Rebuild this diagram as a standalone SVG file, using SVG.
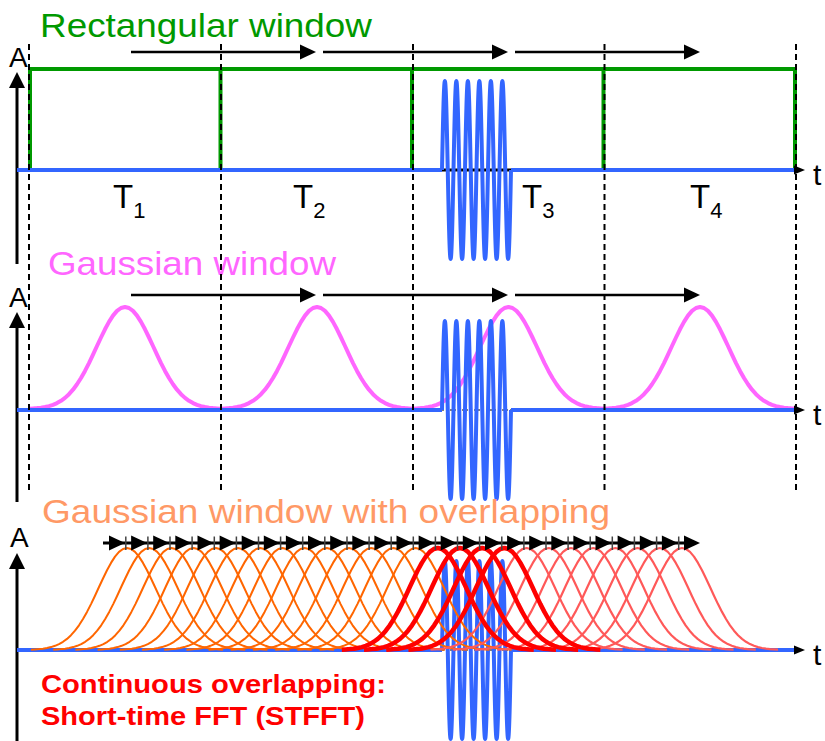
<svg xmlns="http://www.w3.org/2000/svg" xmlns:xlink="http://www.w3.org/1999/xlink" width="825" height="741" viewBox="0 0 825 741">
<style>
text{font-family:"Liberation Sans",Arial,sans-serif}
.ttl{font-size:34px}
.dash{stroke:#000;stroke-width:2;stroke-dasharray:6 4;fill:none}
.axis{stroke:#000;stroke-width:3;fill:none}
.base{stroke:#3366ff;stroke-width:4;fill:none}
.wave{stroke:#3366ff;stroke-width:4;fill:none;stroke-linejoin:round}
.dot{stroke:#000;stroke-width:1.2;stroke-dasharray:2 2;fill:none}
.arr{stroke:#000;stroke-width:2.5;fill:none}
.marr{stroke:#000;stroke-width:3;fill:none}
.grn{stroke:#009900;stroke-width:4;fill:none}
.pink{stroke:#ff66ff;stroke-width:4;fill:none}
.or{stroke:#ff6600;stroke-width:2;fill:none}
.rd{stroke:#ff0000;stroke-width:4.5;fill:none}
.lr{stroke:#ff5959;stroke-width:2.2;fill:none}
.lbl{font-size:33px}
.sub{font-size:22px}
.ax{font-size:28px}
.tt{font-size:30px}
</style>
<defs>
<path id="g" fill="none" stroke-linejoin="round" d="M-96,-0.3 L-92,-0.6 -88,-0.9 -84,-1.3 -80,-2 -76,-2.9 -72,-4.2 -68,-5.9 -64,-8.2 -60,-11.1 -56,-14.8 -52,-19.3 -48,-24.7 -44,-31 -40,-38.1 -36,-45.9 -32,-54.3 -28,-63 -24,-71.5 -20,-79.7 -16,-87.1 -12,-93.4 -8,-98.1 -4,-101 0,-102 4,-101 8,-98.1 12,-93.4 16,-87.1 20,-79.7 24,-71.5 28,-63 32,-54.3 36,-45.9 40,-38.1 44,-31 48,-24.7 52,-19.3 56,-14.8 60,-11.1 64,-8.2 68,-5.9 72,-4.2 76,-2.9 80,-2 84,-1.3 88,-0.9 92,-0.6 96,-0.3"/>
<path id="w" d="M442,0 c0.94,-46 1.83,-89 2.875,-89 c1.04,0 1.94,43 2.875,89 c0.94,46 1.83,89 2.875,89 c1.04,0 1.94,-43 2.875,-89 c0.94,-46 1.83,-89 2.875,-89 c1.04,0 1.94,43 2.875,89 c0.94,46 1.83,89 2.875,89 c1.04,0 1.94,-43 2.875,-89 c0.94,-46 1.83,-89 2.875,-89 c1.04,0 1.94,43 2.875,89 c0.94,46 1.83,89 2.875,89 c1.04,0 1.94,-43 2.875,-89 c0.94,-46 1.83,-89 2.875,-89 c1.04,0 1.94,43 2.875,89 c0.94,46 1.83,89 2.875,89 c1.04,0 1.94,-43 2.875,-89 c0.94,-46 1.83,-89 2.875,-89 c1.04,0 1.94,43 2.875,89 c0.94,46 1.83,89 2.875,89 c1.04,0 1.94,-43 2.875,-89 c0.94,-46 1.83,-89 2.875,-89 c1.04,0 1.94,43 2.875,89 c0.94,46 1.83,89 2.875,89 c1.04,0 1.94,-43 2.875,-89"/>
<marker id="big" markerUnits="userSpaceOnUse" orient="auto" refX="0" refY="0" markerWidth="40" markerHeight="40" viewBox="-20 -20 40 40" overflow="visible">
<polygon points="-8,-7.5 8,0 -8,7.5" fill="#000"/>
</marker>
<marker id="mid" markerUnits="userSpaceOnUse" orient="auto" refX="0" refY="0" markerWidth="40" markerHeight="40" viewBox="-20 -20 40 40" overflow="visible">
<polygon points="-16,-7.5 0,0 -16,7.5" fill="#000"/>
<line x1="0.8" y1="-6.5" x2="0.8" y2="7" stroke="#444" stroke-width="1.5"/>
</marker>
<marker id="end" markerUnits="userSpaceOnUse" orient="auto" refX="0" refY="0" markerWidth="40" markerHeight="40" viewBox="-20 -20 40 40" overflow="visible">
<polygon points="-8,-7.5 8,0 -8,7.5" fill="#000"/>
</marker>
</defs>
<rect width="825" height="741" fill="#fff"/>

<g id="panel-rectangular">
<text class="ttl" x="40" y="37" fill="#009900" textLength="332" lengthAdjust="spacingAndGlyphs">Rectangular window</text>
<path class="grn" d="M29,69 H796 M30,69 V170 M220.5,69 V170 M412,69 V170 M603.5,69 V170 M795,69 V170"/>
<line class="axis" x1="17" y1="264" x2="17" y2="86"/>
<polygon points="9,88 17,72 25,88" fill="#000"/>
<line class="axis" x1="17" y1="170" x2="798" y2="170"/>
<path class="base" d="M17,170 H442 M511,170 H796"/>
<line class="dot" x1="442" y1="170" x2="511" y2="170"/>
<use xlink:href="#w" class="wave" transform="translate(0,170)"/>
<polygon points="794,165.5 805,170 794,174.5" fill="#000"/>
<text class="ax" x="9" y="67">A</text>
<text class="tt" x="813" y="185">t</text>
<text class="lbl" x="113" y="208">T<tspan class="sub" dy="10">1</tspan></text>
<text class="lbl" x="293" y="208">T<tspan class="sub" dy="10">2</tspan></text>
<text class="lbl" x="522" y="208">T<tspan class="sub" dy="10">3</tspan></text>
<text class="lbl" x="690" y="208">T<tspan class="sub" dy="10">4</tspan></text>
</g>

<g id="panel-gaussian">
<text class="ttl" x="48" y="275" fill="#ff66ff" textLength="288" lengthAdjust="spacingAndGlyphs">Gaussian window</text>
<use xlink:href="#g" class="pink" transform="translate(125,409)"/>
<use xlink:href="#g" class="pink" transform="translate(317,409)"/>
<use xlink:href="#g" class="pink" transform="translate(508.5,409)"/>
<use xlink:href="#g" class="pink" transform="translate(700,409)"/>
<line class="axis" x1="17" y1="502" x2="17" y2="326"/>
<polygon points="9,328 17,312 25,328" fill="#000"/>
<path class="base" d="M17,410 H442 M511,410 H796"/>
<line class="dot" x1="442" y1="410" x2="511" y2="410"/>
<use xlink:href="#w" class="wave" transform="translate(0,410)"/>
<polygon points="794,405.5 805,410 794,414.5" fill="#000"/>
<text class="ax" x="9" y="307">A</text>
<text class="tt" x="813" y="425">t</text>
</g>

<g id="panel-overlapping">
<text class="ttl" x="42" y="523" fill="#ff9966" textLength="568" lengthAdjust="spacingAndGlyphs">Gaussian window with overlapping</text>
<line class="axis" x1="17" y1="741" x2="17" y2="567"/>
<polygon points="9,569 17,553 25,569" fill="#000"/>
<path class="base" d="M17,650 H442 M511,650 H796"/>
<line class="dot" x1="442" y1="650" x2="511" y2="650"/>
<use xlink:href="#w" class="wave" transform="translate(0,650)"/>
<polygon points="794,645.5 805,650 794,654.5" fill="#000"/>
<g id="windows-orange">
<use xlink:href="#g" class="or" transform="translate(127,650)"/>
<use xlink:href="#g" class="or" transform="translate(149.2,650)"/>
<use xlink:href="#g" class="or" transform="translate(171.4,650)"/>
<use xlink:href="#g" class="or" transform="translate(193.6,650)"/>
<use xlink:href="#g" class="or" transform="translate(215.8,650)"/>
<use xlink:href="#g" class="or" transform="translate(238,650)"/>
<use xlink:href="#g" class="or" transform="translate(260.2,650)"/>
<use xlink:href="#g" class="or" transform="translate(282.4,650)"/>
<use xlink:href="#g" class="or" transform="translate(304.6,650)"/>
<use xlink:href="#g" class="or" transform="translate(326.8,650)"/>
<use xlink:href="#g" class="or" transform="translate(349,650)"/>
<use xlink:href="#g" class="or" transform="translate(371.2,650)"/>
<use xlink:href="#g" class="or" transform="translate(393.4,650)"/>
<use xlink:href="#g" class="or" transform="translate(415.6,650)"/>
</g>
<g id="windows-lightred">
<use xlink:href="#g" class="lr" transform="translate(526.6,650)"/>
<use xlink:href="#g" class="lr" transform="translate(548.8,650)"/>
<use xlink:href="#g" class="lr" transform="translate(571,650)"/>
<use xlink:href="#g" class="lr" transform="translate(593.2,650)"/>
<use xlink:href="#g" class="lr" transform="translate(615.4,650)"/>
<use xlink:href="#g" class="lr" transform="translate(637.6,650)"/>
<use xlink:href="#g" class="lr" transform="translate(659.8,650)"/>
<use xlink:href="#g" class="lr" transform="translate(682,650)"/>
</g>
<g id="windows-red">
<use xlink:href="#g" class="rd" transform="translate(437.8,650)"/>
<use xlink:href="#g" class="rd" transform="translate(460,650)"/>
<use xlink:href="#g" class="rd" transform="translate(482.2,650)"/>
<use xlink:href="#g" class="rd" transform="translate(504.4,650)"/>
</g>
<text class="ax" x="10" y="547">A</text>
<text class="tt" x="813" y="665">t</text>
</g>

<g id="dividers">
<path class="dash" d="M29,44 V490 M221,44 V490 M413,44 V490 M604.5,44 V490 M796,44 V490"/>
</g>

<g id="caption">
<text x="41" y="693" font-size="26" font-weight="bold" fill="#ff0000" textLength="345" lengthAdjust="spacingAndGlyphs">Continuous overlapping:</text>
<text x="41" y="725" font-size="26" font-weight="bold" fill="#ff0000" textLength="324" lengthAdjust="spacingAndGlyphs">Short-time FFT (STFFT)</text>
</g>

<g id="connectors">
<path class="arr" marker-end="url(#big)" d="M131,52 H308"/>
<path class="arr" marker-end="url(#big)" d="M323,52 H500"/>
<path class="arr" marker-end="url(#big)" d="M515,52 H692"/>
<path class="arr" marker-end="url(#big)" d="M131,295 H308"/>
<path class="arr" marker-end="url(#big)" d="M323,295 H500"/>
<path class="arr" marker-end="url(#big)" d="M515,295 H692"/>
<path class="marr" marker-mid="url(#mid)" marker-end="url(#end)" d="M103,543 L125,543 L147.1,543 L169.2,543 L191.3,543 L213.5,543 L235.6,543 L257.7,543 L279.8,543 L301.9,543 L324,543 L346.2,543 L368.3,543 L390.4,543 L412.5,543 L434.6,543 L456.7,543 L478.8,543 L501,543 L523.1,543 L545.2,543 L567.3,543 L589.4,543 L611.5,543 L633.6,543 L655.8,543 L677.9,543 L692,543"/>
</g>
</svg>
